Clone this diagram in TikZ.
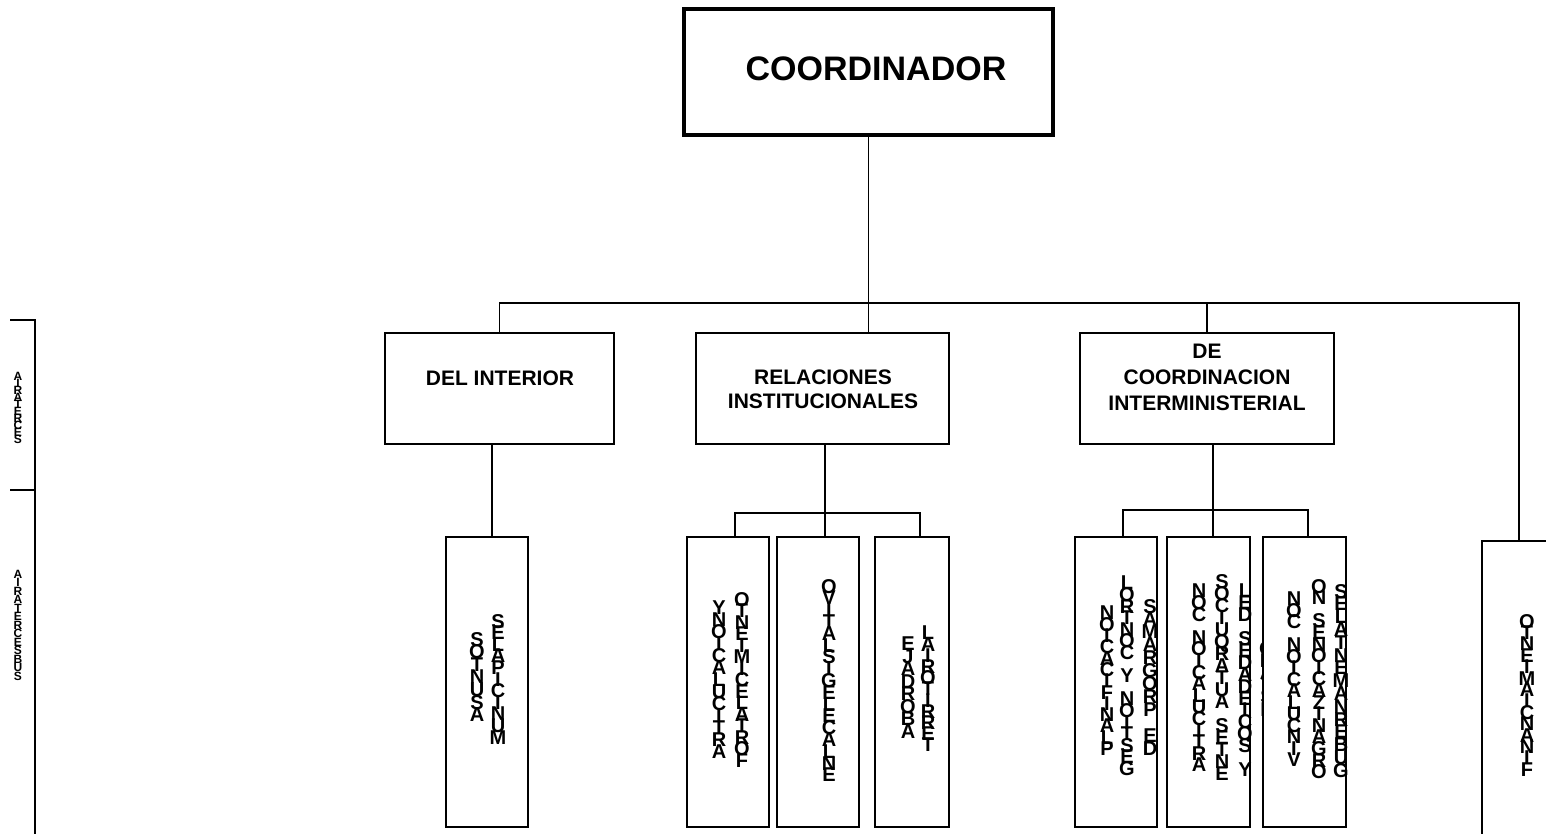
\documentclass[tikz,border=0pt]{standalone}
\usepackage{fontspec}
\setmainfont{Liberation Sans}
\newcommand\vstk[2]{\vbox{\baselineskip=#1\relax\lineskiplimit=-\maxdimen\lineskip=0pt\relax\vstkA#2\relax}}
\def\vstkA#1{\ifx#1\relax\else\hbox to 0pt{\hss#1\hss}\expandafter\vstkA\fi}
\begin{document}
\begin{tikzpicture}[x=1pt,y=-1pt,
  bx/.style={draw,fill=white,rectangle,inner sep=0pt,outer sep=0pt,anchor=north west,line width=2pt},
  sbx/.style={bx,line width=1.6pt,minimum width=82pt,minimum height=290pt},
  ln/.style={line width=1.5pt},
  lbl/.style={inner sep=0pt,align=center,font=\fontsize{21}{24}\selectfont\bfseries},
  stk/.style={inner sep=0pt,anchor=north,font=\fontsize{20}{20}\selectfont\bfseries},
  stks/.style={inner sep=0pt,anchor=north,font=\fontsize{12}{12}\selectfont\bfseries}]
\useasboundingbox (0,0) rectangle (1546,833);
\clip (0,0) rectangle (1546,833);
% boxes
\node[bx,line width=4pt,minimum width=369pt,minimum height=126pt] (coord) at (684,9) {};
\node[bx,minimum width=229pt,minimum height=111pt] (int) at (385,333) {};
\node[bx,minimum width=253pt,minimum height=111pt] (rel) at (696,333) {};
\node[bx,minimum width=254pt,minimum height=111pt] (coi) at (1080,333) {};
\node[sbx] (s1) at (446,537) {};
\node[sbx] (sA) at (687,537) {};
\node[sbx] (sB) at (777,537) {};
\node[sbx,minimum width=74pt] (sC) at (875,537) {};
\node[sbx] (sD) at (1075,537) {};
\node[sbx,minimum width=83pt] (sE) at (1167,537) {};
\node[sbx,minimum width=74pt,minimum height=300pt] (sG) at (1482,541) {};
% connectors level 1
\coordinate (busY) at (0,303);
\draw[ln] (coord.south) -- (coord.south |- rel.north);
\draw[ln] (int.north) -- (int.north |- busY) -| (sG.north);
\draw[ln] (coi.north) -- (coi.north |- busY);
% connectors level 2
\coordinate (i1) at ([xshift=5pt]s1.north);
\draw[ln] (i1) -- (i1 |- int.south);
\coordinate (brR) at (0,513);
\coordinate (a1) at ([xshift=7pt]sA.north);
\coordinate (b1) at ([xshift=7pt]sB.north);
\coordinate (c1) at ([xshift=8pt]sC.north);
\draw[ln] (a1) -- (a1 |- brR) -- (c1 |- brR) -- (c1);
\draw[ln] (b1) -- (b1 |- rel.south);
\coordinate (brC) at (0,510);
% texts
\node[font=\fontsize{34}{40}\selectfont\bfseries,inner sep=0pt] (tcoord) at (876,69) {COORDINADOR};
\node[lbl] (tint) at (500,378) {DEL INTERIOR};
\node[lbl] (trel) at (823,389) {RELACIONES\\INSTITUCIONALES};
\node[lbl,font=\fontsize{21}{26}\selectfont\bfseries] (tcoi) at (1207,377) {DE\\COORDINACION\\INTERMINISTERIAL};
\node[stk] (t1a) at (477,632) {\vstk{12.6pt}{SOTNUSA}};
\node[stk] (t1b) at (498,614) {\vstk{11.6pt}{SELAPICINUM}};
\node[stk] (tAa) at (719,601) {\vstk{12pt}{YNOICALUCITRA}};
\node[stk] (tAb) at (742,592) {\vstk{11.5pt}{OTNEIMICELATROF}};
\node[stk] (tB) at (829,579) {\vstk{11.8pt}{OVITALSIGELECALNE}};
\node[stk] (tCa) at (908,637) {\vstk{12.5pt}{EJADROBA}};
\node[stk] (tCb) at (928,626) {\vstk{11.2pt}{LAIROTIRRET}};
\node[stk] (tDa) at (1107,606) {\vstk{11.3pt}{NOICACIFINALP}};
\node[stk] (tDb) at (1127,576) {\vstk{11.6pt}{LORTNOC~Y~NOITSEG}};
\node[stk] (tDc) at (1150,599) {\vstk{12.9pt}{SAMARGORP~ED}};
\node[stk] (tEa) at (1199,584) {\vstk{11.6pt}{NOC~NOICALUCITRA}};
\node[stk] (tEb) at (1222,574) {\vstk{12pt}{SOCIUQRATUA~SETNE}};
\node[stk] (tEc) at (1245,584) {\vstk{11.9pt}{LED~SEDADEICOS~Y}};
\node[stk] (tEd) at (1267,641) {\vstk{12.2pt}{ODATSE}};
% box F drawn over the overflow of box E
\node[sbx,minimum width=83pt] (sF) at (1263,537) {};
\coordinate (d1) at ([xshift=7pt]sD.north);
\coordinate (e1) at ([xshift=4.5pt]sE.north);
\coordinate (f1) at ([xshift=3.5pt]sF.north);
\draw[ln] (d1) -- (d1 |- brC) -- (f1 |- brC) -- (f1);
\draw[ln] (e1) -- (e1 |- coi.south);
\node[stk] (tFa) at (1294,592) {\vstk{11.5pt}{NOC~NOICALUCNIV}};
\node[stk] (tFb) at (1319,579) {\vstk{11.6pt}{ON~SENOICAZINAGRO}};
\node[stk] (tFc) at (1341,584) {\vstk{12.8pt}{SELATNEMANREBUG}};
\node[stk] (tG) at (1527,614) {\vstk{11.4pt}{OTNEIMAICNANIF}};
% left margin
\coordinate (m1) at (10,320);
\coordinate (m2) at (35,320);
\coordinate (m3) at (35,840);
\coordinate (m4) at (10,490);
\coordinate (m5) at (35,490);
\draw[ln] (m1) -- (m2) -- (m3);
\draw[ln] (m4) -- (m5);
\node[stks] (tl1) at (18,372) {\vstk{7pt}{AIRATERCES}};
\node[stks] (tl2) at (18,570) {\vstk{8.5pt}{AIRATERCESBUS}};
\end{tikzpicture}
\end{document}
